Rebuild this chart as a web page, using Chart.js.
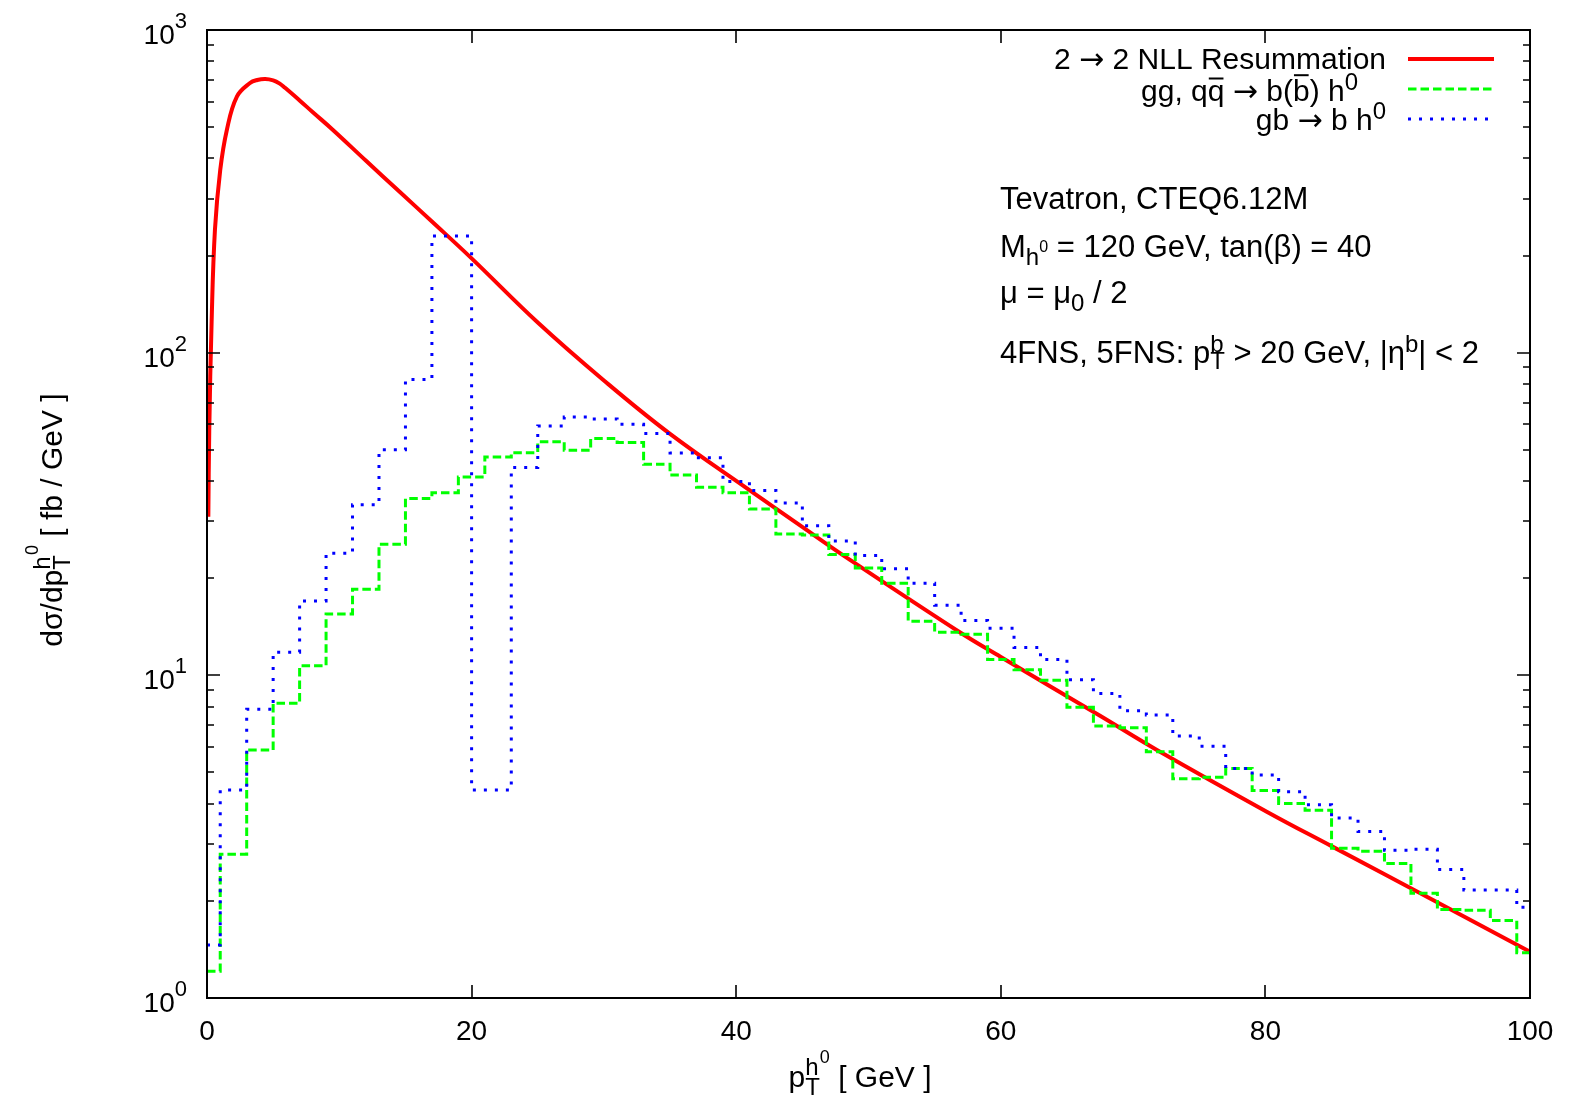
<!DOCTYPE html>
<html>
<head>
<meta charset="utf-8">
<script src="https://cdn.jsdelivr.net/npm/chart.js@4.4.0/dist/chart.umd.min.js"></script>
<style>
  html, body { margin: 0; padding: 0; background: #fff; }
  canvas { display: block; }
</style>
</head>
<body>
<canvas id="ptChart" width="1571" height="1099"></canvas>
<script>
// p_T bin centres (GeV), 2 GeV wide bins
const ptBins = [0, 2, 4, 6, 8, 10, 12, 14, 16, 18, 20, 22, 24, 26, 28, 30, 32, 34, 36, 38, 40,
  42, 44, 46, 48, 50, 52, 54, 56, 58, 60, 62, 64, 66, 68, 70, 72, 74, 76, 78, 80,
  82, 84, 86, 88, 90, 92, 94, 96, 98, 100];

// gg, qqbar -> b(bbar) h0  (green, dashed)
const ggVal = [1.21, 2.79, 5.87, 8.19, 10.7, 15.5, 18.5, 25.5, 35.3, 36.8, 41.2,
  47.5, 49.0, 53.0, 49.8, 54.2, 52.7, 45.1, 41.8, 38.3, 36.8,
  32.8, 27.4, 27.2, 23.7, 21.5, 19.3, 14.7, 13.6, 13.4, 11.2,
  10.4, 9.65, 7.96, 6.97, 6.88, 5.80, 4.78, 4.83, 5.14, 4.40,
  4.01, 3.82, 2.91, 2.85, 2.61, 2.11, 1.88, 1.87, 1.74, 1.38];

// gb -> b h0  (blue, dotted); no point at 20 GeV
const gbPt = [0, 2, 4, 6, 8, 10, 12, 14, 16, 18, 22, 24, 26, 28, 30, 32, 34, 36, 38, 40,
  42, 44, 46, 48, 50, 52, 54, 56, 58, 60, 62, 64, 66, 68, 70, 72, 74, 76, 78, 80,
  82, 84, 86, 88, 90, 92, 94, 96, 98, 100];
const gbVal = [1.46, 4.41, 7.85, 11.8, 17.0, 23.9, 33.8, 50.0, 82.6, 230,
  4.41, 44.1, 59.3, 63.2, 62.3, 60.0, 56.2, 48.9, 47.2, 39.9,
  37.4, 34.2, 29.1, 26.1, 23.5, 21.4, 19.3, 16.5, 14.8, 14.0,
  12.2, 11.2, 9.69, 8.79, 7.77, 7.53, 6.49, 6.03, 5.14, 4.91,
  4.36, 3.97, 3.61, 3.28, 2.87, 2.89, 2.50, 2.16, 2.16, 1.91];

// 2 -> 2 NLL resummation (red, solid)
const nllPt = [0.1, 0.17, 0.35, 0.6, 1.0, 1.5, 2.25, 3.25, 3.8, 4.4, 5.0, 5.5, 5.9, 7, 8, 9.5,
  12, 14.6, 17, 20, 25, 30, 35, 41, 44.8, 48.6, 56.9, 60, 67.5, 71.8, 80.1, 85.1, 92.7, 100];
const nllVal = [31, 57, 125, 240, 368, 490, 621, 685, 700, 705, 698, 682, 662, 605, 556, 491,
  394, 314, 255, 196, 124, 82, 56, 37.5, 29.2, 22.8, 13.6, 11.4, 7.49, 5.87, 3.78, 2.94, 2.01, 1.39];

const xTicks = [0, 20, 40, 60, 80, 100];
const yDecades = [0, 1, 2, 3];

const FAMILY = "'Liberation Sans', Arial, Helvetica, sans-serif";
const ARROW_FAMILY = "'DejaVu Sans', sans-serif";
const FS = 30;

function setFont(ctx, size, family) {
  ctx.font = size + "px " + (family || FAMILY);
}

// parts: {t, s: size, r: rise px (up), f: family, bar: overline height in em, stack: share x with next}
function richWidth(ctx, parts, base) {
  let w = 0, held = 0;
  for (const p of parts) {
    setFont(ctx, p.s || base, p.f);
    const pw = ctx.measureText(p.t).width;
    if (p.stack) { held = Math.max(held, pw); continue; }
    w += Math.max(pw, held);
    held = 0;
  }
  return w + held;
}

function drawRich(ctx, parts, x, y, align, base) {
  base = base || FS;
  const w = richWidth(ctx, parts, base);
  let cx = align === "right" ? x - w : align === "center" ? x - w / 2 : x;
  let held = 0;
  ctx.textAlign = "left";
  ctx.textBaseline = "alphabetic";
  for (const p of parts) {
    const size = p.s || base;
    setFont(ctx, size, p.f);
    const pw = ctx.measureText(p.t).width;
    const by = y - (p.r || 0);
    ctx.fillText(p.t, cx, by);
    if (p.bar) {
      ctx.save();
      ctx.lineWidth = 2;
      ctx.beginPath();
      ctx.moveTo(cx + 1, by - size * p.bar);
      ctx.lineTo(cx + pw - 1, by - size * p.bar);
      ctx.stroke();
      ctx.restore();
    }
    if (p.stack) { held = Math.max(held, pw); continue; }
    cx += Math.max(pw, held);
    held = 0;
  }
}

const ARROW = { t: "\u2192", f: ARROW_FAMILY };

const legendRows = [
  { parts: [{ t: "2 " }, ARROW, { t: " 2 NLL Resummation" }], right: 1386, base: 69, line: 59,
    color: "#ff0000", width: 4, dash: [] },
  { parts: [{ t: "gg, q" }, { t: "q", bar: 0.75 }, { t: " " }, ARROW, { t: " b(" }, { t: "b", bar: 0.86 },
      { t: ") h" }, { t: "0", s: 24, r: 11 }], right: 1358, base: 101, line: 89,
    color: "#00ff00", width: 3, dash: [8.5, 4] },
  { parts: [{ t: "gb " }, ARROW, { t: " b h" }, { t: "0", s: 24, r: 11 }], right: 1386, base: 130, line: 119,
    color: "#0000ff", width: 3, dash: [3, 8] },
];

const notes = [
  { parts: [{ t: "Tevatron, CTEQ6.12M" }], base: 209 },
  { parts: [{ t: "M" }, { t: "h", s: 24, r: -8 }, { t: "0", s: 16, r: 5 },
      { t: " = 120 GeV, tan(\u03B2) = 40" }], base: 257 },
  { parts: [{ t: "\u03BC = \u03BC" }, { t: "0", s: 24, r: -8 }, { t: " / 2" }], base: 303 },
  { parts: [{ t: "4FNS, 5FNS: p" }, { t: "T", s: 24, r: -6, stack: true }, { t: "b", s: 24, r: 11 },
      { t: " > 20 GeV, |\u03B7" }, { t: "b", s: 24, r: 11 }, { t: "| < 2" }], base: 363 },
];

const framePlugin = {
  id: "framePlugin",
  afterDatasetsDraw(chart) {
    const { ctx, chartArea: a, scales } = chart;
    const xs = scales.x, ys = scales.y;
    ctx.save();
    ctx.strokeStyle = "#000";
    ctx.fillStyle = "#000";

    // ticks, inward on all four sides
    ctx.lineWidth = 1.6;
    ctx.beginPath();
    for (const d of yDecades) {
      for (let m = 1; m <= 9; m++) {
        const v = m * Math.pow(10, d);
        if (v > 1000) break;
        const py = Math.round(ys.getPixelForValue(v));
        const len = m === 1 ? 13 : 7;
        ctx.moveTo(a.left, py); ctx.lineTo(a.left + len, py);
        ctx.moveTo(a.right, py); ctx.lineTo(a.right - len, py);
      }
    }
    for (const t of xTicks) {
      const px = Math.round(xs.getPixelForValue(t));
      ctx.moveTo(px, a.bottom); ctx.lineTo(px, a.bottom - 13);
      ctx.moveTo(px, a.top); ctx.lineTo(px, a.top + 13);
    }
    ctx.stroke();

    // frame
    ctx.lineWidth = 2;
    ctx.strokeRect(a.left, a.top, a.right - a.left, a.bottom - a.top);

    // tick labels
    for (const t of xTicks) {
      setFont(ctx, 28);
      ctx.textAlign = "center";
      ctx.textBaseline = "alphabetic";
      ctx.fillText(String(t), xs.getPixelForValue(t), 1040);
    }
    for (const d of yDecades) {
      const py = ys.getPixelForValue(Math.pow(10, d));
      drawRich(ctx, [{ t: "10", s: 28 }, { t: String(d), s: 22, r: 16 }], 187, py + 14, "right");
    }

    // axis titles
    drawRich(ctx, [{ t: "p" }, { t: "T", s: 24, r: -8, stack: true }, { t: "h", s: 24, r: 12 },
      { t: "0", s: 18, r: 24 }, { t: " [ GeV ]" }], 860, 1087, "center");
    ctx.save();
    ctx.translate(62, 520);
    ctx.rotate(-Math.PI / 2);
    drawRich(ctx, [{ t: "d\u03C3/dp" }, { t: "T", s: 24, r: -8, stack: true }, { t: "h", s: 24, r: 12 },
      { t: "0", s: 18, r: 24 }, { t: " [ fb / GeV ]" }], 0, 0, "center");
    ctx.restore();

    // legend
    for (const row of legendRows) {
      drawRich(ctx, row.parts, row.right, row.base, "right");
      ctx.save();
      ctx.strokeStyle = row.color;
      ctx.lineWidth = row.width;
      ctx.setLineDash(row.dash);
      ctx.beginPath();
      ctx.moveTo(1408, row.line);
      ctx.lineTo(1494, row.line);
      ctx.stroke();
      ctx.restore();
    }

    // annotations
    for (const n of notes) drawRich(ctx, n.parts, 1000, n.base, "left", 31);

    ctx.restore();
  },
};

const ctx = document.getElementById("ptChart").getContext("2d");

new Chart(ctx, {
  type: "line",
  data: {
    datasets: [
      {
        label: "2 \u2192 2 NLL Resummation",
        data: nllPt.map((x, i) => ({ x, y: nllVal[i] })),
        borderColor: "#ff0000",
        borderWidth: 4,
        tension: 0.4,
        pointRadius: 0,
        order: 3,
      },
      {
        label: "gg, qq \u2192 b(b) h0",
        data: ptBins.map((x, i) => ({ x, y: ggVal[i] })),
        borderColor: "#00ff00",
        borderWidth: 3,
        borderDash: [8.5, 4],
        stepped: "middle",
        pointRadius: 0,
        order: 2,
      },
      {
        label: "gb \u2192 b h0",
        data: gbPt.map((x, i) => ({ x, y: gbVal[i] })),
        borderColor: "#0000ff",
        borderWidth: 3,
        borderDash: [3, 8],
        stepped: "middle",
        pointRadius: 0,
        order: 1,
      },
    ],
  },
  options: {
    responsive: false,
    animation: false,
    devicePixelRatio: 1,
    layout: { padding: { left: 207, right: 41, top: 30, bottom: 101 } },
    scales: {
      x: { type: "linear", min: 0, max: 100, display: false },
      y: { type: "logarithmic", min: 1, max: 1000, display: false },
    },
    plugins: {
      legend: { display: false },
      tooltip: { enabled: false },
    },
  },
  plugins: [framePlugin],
});
</script>
</body>
</html>
